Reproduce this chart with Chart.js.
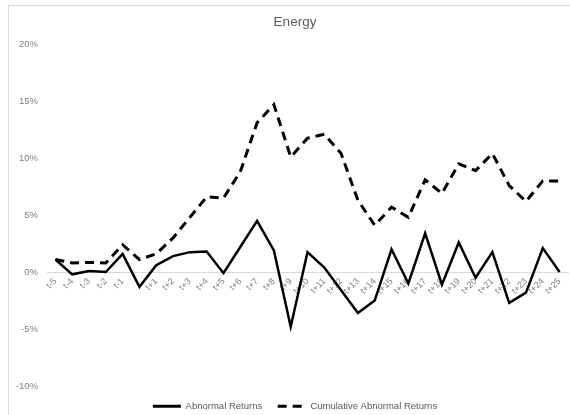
<!DOCTYPE html>
<html>
<head>
<meta charset="utf-8">
<script src="https://cdn.jsdelivr.net/npm/chart.js@4"></script>
<style>
  html, body { margin: 0; padding: 0; width: 570px; height: 415px; overflow: hidden; background: #fff; }
  #frame { position: absolute; left: 8px; top: 5px; width: 700px; height: 500px; border: 1px solid #dcdcdc; box-sizing: border-box; }
  #wrap { position: absolute; left: 0; top: 0; width: 590px; height: 421px; }
</style>
</head>
<body>
<div id="frame"></div>
<div id="wrap"><canvas id="c" width="590" height="421"></canvas></div>
<script>
const categories = ['t-5','t-4','t-3','t-2','t-1','','t+1','t+2','t+3','t+4','t+5','t+6','t+7','t+8','t+9','t+10','t+11','t+12','t+13','t+14','t+15','t+16','t+17','t+18','t+19','t+20','t+21','t+22','t+23','t+24','t+25'];
const abnormalReturns = [1.1, -0.2, 0.1, 0.0, 1.6, -1.3, 0.6, 1.4, 1.75, 1.8, -0.1, 2.2, 4.5, 1.9, -4.8, 1.75, 0.4, -1.6, -3.6, -2.5, 2.0, -1.0, 3.4, -1.1, 2.6, -0.5, 1.75, -2.7, -1.8, 2.1, 0.0];
const cumulativeAbnormalReturns = [1.1, 0.8, 0.85, 0.8, 2.4, 1.1, 1.6, 3.0, 4.8, 6.6, 6.5, 8.8, 13.1, 14.7, 10.1, 11.75, 12.1, 10.4, 6.3, 4.1, 5.7, 4.8, 8.1, 6.9, 9.5, 8.9, 10.4, 7.6, 6.2, 8.0, 8.0];
const yTicks = [-10, -5, 0, 5, 10, 15, 20];

const FONT = '"Liberation Sans", Arial, sans-serif';

new Chart(document.getElementById('c'), {
  type: 'line',
  data: {
    labels: categories,
    datasets: [
      { label: 'Abnormal Returns', data: abnormalReturns, borderColor: '#000', backgroundColor: '#000', borderWidth: 2.5, pointRadius: 0, tension: 0 },
      { label: 'Cumulative Abnormal Returns', data: cumulativeAbnormalReturns, borderColor: '#000', backgroundColor: '#000', borderWidth: 3, borderDash: [9, 6], pointRadius: 0, tension: 0 }
    ]
  },
  options: {
    responsive: false,
    animation: false,
    devicePixelRatio: 1,
    layout: { padding: { left: 10, right: 10, top: 0, bottom: 0 } },
    plugins: {
      title: { display: true, text: 'Energy', color: '#595959', font: { family: FONT, size: 13.5, weight: 'normal' }, padding: { top: 14, bottom: 14 } },
      legend: {
        position: 'bottom',
        labels: {
          color: '#595959', font: { family: FONT, size: 9.5 }, padding: 15.5,
          usePointStyle: true, pointStyleWidth: 28,
          generateLabels: (chart) => Chart.defaults.plugins.legend.labels.generateLabels(chart).map((l, i) => Object.assign(l, {
            pointStyle: 'line', lineWidth: 3, lineDash: chart.data.datasets[i].borderDash || []
          }))
        }
      },
      tooltip: { enabled: false }
    },
    scales: {
      x: {
        offset: true,
        position: { y: 0 },
        grid: { display: false, drawTicks: false },
        border: { display: true, color: '#d9d9d9', width: 1 },
        ticks: { color: '#808080', font: { family: FONT, size: 9 }, maxRotation: 45, minRotation: 45, autoSkip: false, padding: 4 }
      },
      y: {
        min: -10, max: 20,
        afterFit: (s) => { s.width = 37; },
        afterBuildTicks: (s) => { s.ticks = yTicks.map(v => ({ value: v })); },
        grid: { display: false, drawTicks: false },
        border: { display: false },
        ticks: { color: '#808080', font: { family: FONT, size: 9.5 }, padding: 9, callback: (v) => v + '%' }
      },
      spacer: {
        type: 'linear',
        position: 'right',
        afterFit: (s) => { s.width = 12; },
        grid: { display: false, drawTicks: false },
        border: { display: false },
        ticks: { display: false }
      }
    }
  }
});
</script>
</body>
</html>
